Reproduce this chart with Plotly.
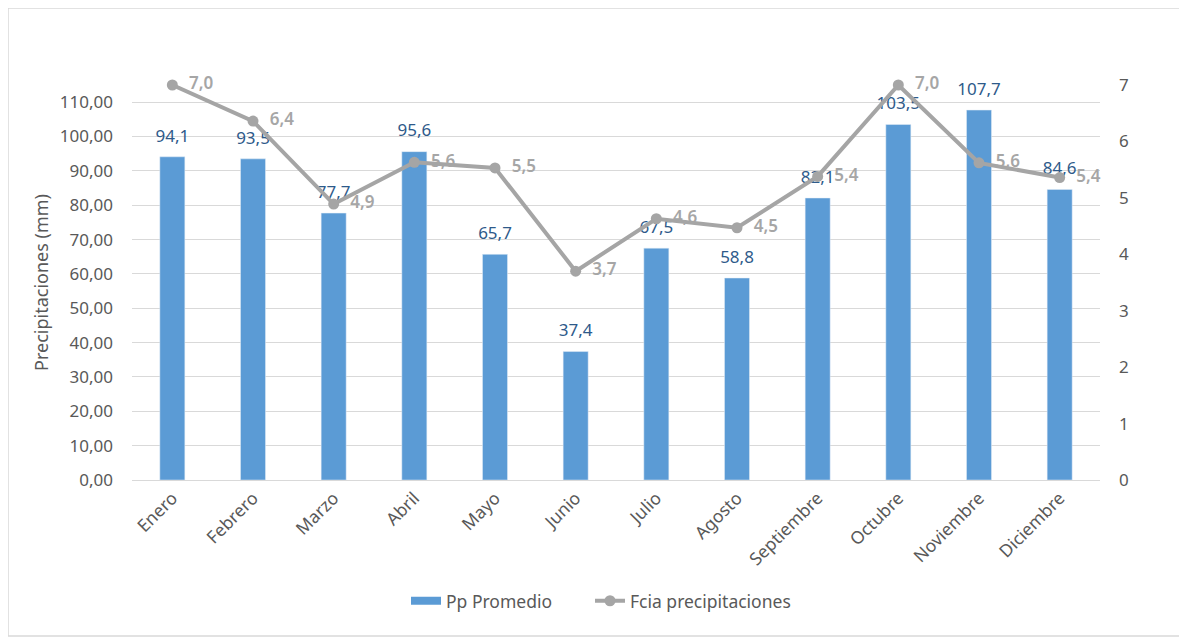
import plotly.graph_objects as go

meses = ["Enero", "Febrero", "Marzo", "Abril", "Mayo", "Junio", "Julio",
         "Agosto", "Septiembre", "Octubre", "Noviembre", "Diciembre"]
pp_promedio = [94.1, 93.5, 77.7, 95.6, 65.7, 37.4, 67.5, 58.8, 82.1, 103.5, 107.7, 84.6]
fcia_precip = [7.0, 6.36, 4.89, 5.63, 5.53, 3.70, 4.63, 4.47, 5.38, 7.0, 5.62, 5.36]
left_ticks = list(range(0, 111, 10))
right_ticks = list(range(0, 8))

FONT = "Noto Sans"
BAR_C = "#5b9bd5"
LINE_C = "#a5a5a5"

fig = go.Figure()
fig.add_trace(go.Bar(
    x=meses, y=pp_promedio, name="Pp Promedio", showlegend=False,
    marker=dict(color=BAR_C), width=0.31, hoverinfo="x+y",
))
# bar value labels, lifted above the bar tops by an invisible marker
fig.add_trace(go.Scatter(
    x=meses, y=pp_promedio, mode="markers+text", showlegend=False,
    marker=dict(size=16, opacity=0), hoverinfo="skip",
    text=pp_promedio, texttemplate="%{y:.1f}", textposition="top center",
    textfont=dict(color="#2e5a8a", size=17, family=FONT), cliponaxis=False,
))
# legend entry for the bars (wide rectangle swatch as in the reference)
fig.add_trace(go.Scatter(
    x=[None], y=[None], name="Pp Promedio", mode="lines",
    line=dict(color=BAR_C, width=8), showlegend=True, legend="legend",
))
fig.add_trace(go.Scatter(
    x=meses, y=fcia_precip, name="Fcia precipitaciones", yaxis="y2",
    mode="lines+markers+text", legend="legend2",
    line=dict(color=LINE_C, width=4),
    marker=dict(color=LINE_C, size=11),
    text=fcia_precip, texttemplate="  %{y:.1f}", textposition="middle right",
    textfont=dict(color="#a6a6a6", size=17, family=FONT, weight=600), cliponaxis=False,
))

LEG_FONT = dict(size=17.5, color="#595959")
fig.update_layout(
    width=1187, height=640,
    margin=dict(l=124, r=95, t=77, b=168),
    paper_bgcolor="white", plot_bgcolor="white",
    separators=",.",
    font=dict(family=FONT, color="#595959", size=14),
    showlegend=True,
    legend=dict(orientation="h", x=(398 - 124) / 968, xanchor="left", y=-0.306, yanchor="middle",
                font=LEG_FONT),
    legend2=dict(orientation="h", x=(582 - 124) / 968, xanchor="left", y=-0.306, yanchor="middle",
                 font=LEG_FONT),
    bargap=0.69,
    xaxis=dict(range=[-0.5, 11.5], tickangle=-45, tickfont=dict(size=17.5, color="#595959"),
               showline=True, linecolor="#d9d9d9", ticks=""),
    yaxis=dict(range=[0, 115], tickvals=left_ticks, tickformat=".2f",
               showgrid=True, gridcolor="#d9d9d9", gridwidth=1, zeroline=False,
               tickfont=dict(size=17, color="#595959"), ticklabelstandoff=18,
               title=dict(text="Precipitaciones (mm)", font=dict(size=18, color="#595959"), standoff=6)),
    yaxis2=dict(range=[0, 7], tickvals=right_ticks, overlaying="y", side="right",
                showgrid=False, zeroline=False, tickfont=dict(size=17, color="#595959"),
                ticklabelstandoff=18),
    shapes=[dict(type="rect", xref="paper", yref="paper",
                 x0=(0 - 124) / 968, x1=(1173 - 124) / 968,
                 y0=(472 - 628) / 395, y1=(472 - 0) / 395,
                 line=dict(color="#d9d9d9", width=1.5), layer="below")],
)
fig.write_html("out.html")
